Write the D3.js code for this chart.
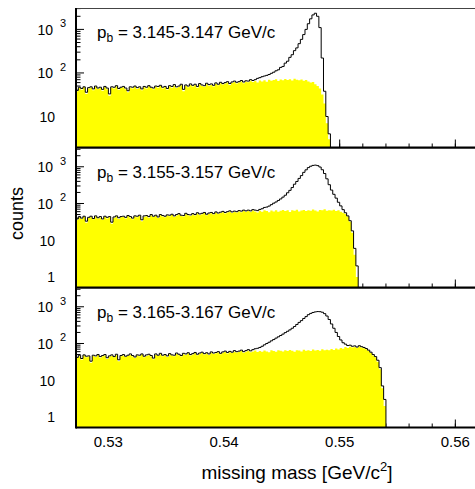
<!DOCTYPE html>
<html>
<head>
<meta charset="utf-8">
<script src="https://cdn.jsdelivr.net/npm/d3@7"></script>
<style>
  body { margin: 0; background: #fff; }
  text { font-family: Arial, "Liberation Sans", Helvetica, sans-serif; fill: #000; }
</style>
</head>
<body>
<div id="chart"></div>
<script>
// histogram binning (GeV/c^2)
const binStart = 0.5272
const binWidth = 0.0002
const massTicks = [0.53, 0.54, 0.55, 0.56]
const beamLabels = ["3.145-3.147", "3.155-3.157", "3.165-3.167"]

// panel 1 : background (yellow) and all events (outline)
const bg1 = [
  38, 45, 41, 47, 33, 44, 46, 40, 48, 43,
  45, 39, 47, 42, 30, 46, 44, 49, 41, 45,
  47, 42, 36, 46, 44, 48, 43, 46, 40, 47,
  44, 49, 45, 42, 48, 46, 50, 44, 47, 41,
  49, 46, 51, 45, 48, 52, 38, 50, 47, 53,
  49, 52, 46, 54, 50, 48, 55, 51, 53, 49,
  56, 52, 58, 54, 57, 60, 53, 59, 62, 57,
  60, 64, 58, 63, 61, 66, 62, 65, 60, 67,
  64, 68, 63, 70, 66, 69, 72, 65, 71, 68,
  73, 69, 72, 67, 74, 70, 68, 71, 66, 69,
  64, 60, 62, 55, 50, 44, 32, 20, 7, 3]
const total1 = [
  40, 47, 44, 48, 36, 46, 48, 43, 50, 45,
  47, 42, 49, 45, 33, 48, 47, 51, 44, 47,
  49, 45, 39, 48, 47, 50, 46, 48, 43, 49,
  47, 51, 47, 45, 50, 49, 52, 47, 49, 44,
  51, 49, 54, 48, 50, 55, 42, 53, 50, 56,
  52, 55, 49, 57, 53, 51, 58, 54, 56, 52,
  59, 55, 61, 57, 60, 63, 57, 62, 65, 61,
  63, 67, 62, 66, 65, 70, 67, 70, 75, 78,
  82, 85, 88, 92, 98, 104, 112, 118, 134, 141,
  168, 186, 228, 262, 325, 376, 470, 590, 760, 1000,
  1350, 1750, 2150, 2350, 2000, 1100, 220, 38, 10, 4]

// panel 2
const bg2 = [
  36, 41, 38, 43, 30, 40, 42, 37, 44, 39,
  41, 36, 43, 39, 42, 28, 40, 44, 38, 42,
  43, 39, 45, 41, 37, 44, 42, 46, 33, 43,
  45, 41, 47, 43, 46, 40, 48, 44, 42, 47,
  45, 49, 43, 47, 50, 46, 44, 51, 48, 46,
  50, 47, 53, 49, 51, 55, 48, 52, 54, 50,
  56, 52, 55, 58, 53, 57, 60, 55, 59, 57,
  61, 58, 63, 60, 62, 59, 64, 61, 57, 63,
  60, 65, 62, 58, 64, 61, 66, 60, 63, 67,
  62, 65, 59, 66, 63, 68, 61, 64, 67, 62,
  66, 63, 69, 64, 61, 67, 65, 70, 63, 66,
  64, 68, 62, 65, 60, 56, 52, 44, 32, 16,
  4, 1]
const total2 = [
  38, 44, 40, 45, 33, 42, 45, 39, 46, 41,
  44, 38, 45, 42, 44, 31, 43, 46, 41, 44,
  45, 42, 47, 44, 40, 46, 45, 48, 36, 46,
  47, 44, 50, 45, 48, 43, 50, 47, 45, 49,
  48, 51, 46, 50, 53, 48, 47, 54, 50, 49,
  53, 50, 56, 52, 54, 57, 51, 55, 57, 53,
  59, 55, 58, 61, 57, 60, 63, 59, 62, 60,
  64, 62, 66, 63, 66, 63, 68, 66, 64, 69,
  72, 78, 80, 85, 93, 102, 110, 121, 133, 149,
  168, 196, 228, 272, 335, 398, 482, 575, 705, 825,
  950, 1035, 1090, 1110, 1075, 985, 830, 655, 470, 325,
  232, 178, 140, 108, 86, 68, 56, 46, 34, 18,
  6, 2]

// panel 3
const bg3 = [
  40, 45, 36, 47, 42, 44, 30, 46, 43, 48,
  41, 45, 47, 38, 44, 46, 42, 48, 33, 45,
  47, 43, 46, 49, 44, 40, 47, 45, 50, 42,
  46, 48, 44, 37, 49, 46, 51, 45, 48, 43,
  50, 47, 45, 52, 48, 44, 51, 49, 53, 47,
  50, 54, 48, 52, 55, 50, 53, 49, 56, 52,
  54, 57, 51, 56, 59, 53, 58, 55, 60, 57,
  59, 62, 56, 60, 63, 58, 61, 64, 59, 62,
  60, 64, 61, 58, 65, 62, 60, 66, 63, 61,
  65, 62, 67, 63, 60, 66, 64, 61, 68, 63,
  66, 62, 69, 64, 67, 63, 70, 65, 68, 66,
  71, 67, 73, 69, 75, 72, 80, 76, 82, 78,
  80, 76, 83, 78, 74, 70, 63, 55, 47, 42,
  32, 20, 6, 2]
const total3 = [
  42, 48, 39, 49, 45, 46, 33, 48, 46, 50,
  44, 47, 50, 41, 46, 49, 44, 51, 36, 47,
  50, 45, 48, 52, 47, 43, 49, 48, 52, 45,
  49, 51, 47, 40, 52, 48, 54, 48, 50, 46,
  53, 49, 48, 55, 51, 47, 54, 52, 56, 50,
  53, 57, 51, 55, 58, 53, 56, 52, 59, 55,
  57, 60, 54, 59, 62, 57, 61, 58, 64, 60,
  62, 66, 60, 64, 68, 63, 68, 72, 74, 78,
  84, 92, 100, 108, 118, 128, 140, 152, 165, 180,
  198, 215, 235, 260, 290, 330, 375, 420, 480, 540,
  610, 660, 700, 725, 740, 735, 710, 650, 560, 450,
  340, 260, 200, 155, 125, 105, 96, 88, 90, 84,
  86, 80, 87, 82, 78, 73, 66, 58, 50, 44,
  35, 22, 7, 3]

const yDomains = [[1.94, 3100], [0.516, 3245], [0.516, 3245]]
const panels = [
  {bg: bg1, total: total1},
  {bg: bg2, total: total2},
  {bg: bg3, total: total3}
]

const W = 475, H = 489
const left = 76, right = 475
const panelTops = [8, 148, 288]
const panelH = 139.5

const svg = d3.select("#chart").append("svg")
  .attr("width", W).attr("height", H)

const x = d3.scaleLinear()
  .domain([0.5272, 0.5617])
  .range([left, right])

const minorX = d3.range(0.528, 0.5611, 0.002)

// builds a step outline of a histogram, starting and ending on the baseline
function stepPoints(vals, y) {
  const base = y.range()[0]
  const pts = [[x(binStart), base]]
  vals.forEach((v, i) => {
    pts.push([x(binStart + i * binWidth), y(v)])
    pts.push([x(binStart + (i + 1) * binWidth), y(v)])
  })
  pts.push([x(binStart + vals.length * binWidth), base])
  return pts
}

const line = d3.line()

panels.forEach((p, k) => {
  const top = panelTops[k], bottom = top + panelH
  const y = d3.scaleLog().domain(yDomains[k]).range([bottom, top])
  const g = svg.append("g")

  g.append("clipPath").attr("id", "clip" + k)
    .append("rect")
    .attr("x", left).attr("y", top)
    .attr("width", right - left).attr("height", panelH)

  // y ticks (log), drawn under the histograms
  const lo = Math.ceil(Math.log10(yDomains[k][0]))
  const hi = Math.floor(Math.log10(yDomains[k][1]))
  const minorY = []
  for (let e = lo - 1; e <= hi; e++) {
    for (let m = 2; m <= 9; m++) {
      const v = m * Math.pow(10, e)
      if (v > yDomains[k][0] && v < yDomains[k][1]) minorY.push(v)
    }
  }
  const majorY = d3.range(lo, hi + 1).map(e => Math.pow(10, e))

  g.selectAll(".ymin").data(minorY).join("line")
    .attr("x1", left).attr("x2", left + 4.5)
    .attr("y1", d => y(d)).attr("y2", d => y(d))
    .attr("stroke", "#000").attr("stroke-width", 1)
  g.selectAll(".ymaj").data(majorY).join("line")
    .attr("x1", left).attr("x2", left + 8)
    .attr("y1", d => y(d)).attr("y2", d => y(d))
    .attr("stroke", "#000").attr("stroke-width", 1)

  // x ticks
  g.selectAll(".xmin").data(minorX).join("line")
    .attr("x1", d => x(d)).attr("x2", d => x(d))
    .attr("y1", bottom).attr("y2", bottom - 4)
    .attr("stroke", "#000").attr("stroke-width", 1)
  g.selectAll(".xmaj").data(massTicks).join("line")
    .attr("x1", d => x(d)).attr("x2", d => x(d))
    .attr("y1", bottom).attr("y2", bottom - 8)
    .attr("stroke", "#000").attr("stroke-width", 1)

  // histograms
  const h = g.append("g").attr("clip-path", `url(#clip${k})`)
  h.append("path")
    .attr("d", line(stepPoints(p.bg, y)) + "Z")
    .attr("fill", "#ffff00")
    .attr("stroke", "none")
  h.append("path")
    .attr("d", line(stepPoints(p.total, y)))
    .attr("fill", "none")
    .attr("stroke", "#000")
    .attr("stroke-width", 1)

  // frame
  g.append("line")
    .attr("x1", left).attr("x2", right + 5)
    .attr("y1", top + 0.5).attr("y2", top + 0.5)
    .attr("stroke", "#444").attr("stroke-width", 1)
  g.append("line")
    .attr("x1", left).attr("x2", right + 5)
    .attr("y1", bottom).attr("y2", bottom)
    .attr("stroke", "#000").attr("stroke-width", 2)
  g.append("line")
    .attr("x1", left).attr("x2", left)
    .attr("y1", top).attr("y2", bottom + 1)
    .attr("stroke", "#000").attr("stroke-width", 2)

  // y tick labels
  majorY.forEach(v => {
    const e = Math.round(Math.log10(v))
    const ty = y(v)
    if (e >= 2) {
      g.append("text")
        .attr("x", 53).attr("y", ty + 5.5)
        .attr("text-anchor", "end")
        .attr("font-size", 14)
        .text("10")
      g.append("text")
        .attr("x", 60).attr("y", ty - 2)
        .attr("font-size", 11)
        .text(e)
    } else {
      g.append("text")
        .attr("x", 55).attr("y", ty + 5.5)
        .attr("text-anchor", "end")
        .attr("font-size", 14)
        .text(e === 1 ? "10" : "1")
    }
  })

  // beam momentum label
  const lab = g.append("text")
    .attr("x", 97).attr("y", top + 29.7)
    .attr("font-size", 17)
  lab.append("tspan").text("p")
  lab.append("tspan").attr("font-size", 12).attr("dy", 4).text("b")
  lab.append("tspan").attr("dy", -4).text(" = " + beamLabels[k] + " GeV/c")

  // x tick labels only on the lowest panel
  if (k === panels.length - 1) {
    g.selectAll(".xlab").data(massTicks).join("text")
      .attr("x", d => x(d)).attr("y", bottom + 19)
      .attr("text-anchor", "middle")
      .attr("font-size", 15)
      .text(d => d3.format(".2f")(d))
  }
})

// axis titles
const xt = svg.append("text")
  .attr("x", 297).attr("y", 479)
  .attr("text-anchor", "middle")
  .attr("font-size", 19)
xt.append("tspan").text("missing mass [GeV/c")
xt.append("tspan").attr("font-size", 13).attr("dy", -8).text("2")
xt.append("tspan").attr("dy", 8).text("]")

svg.append("text")
  .attr("transform", "translate(23,213.5) rotate(-90)")
  .attr("text-anchor", "middle")
  .attr("font-size", 18)
  .text("counts")
</script>
</body>
</html>
